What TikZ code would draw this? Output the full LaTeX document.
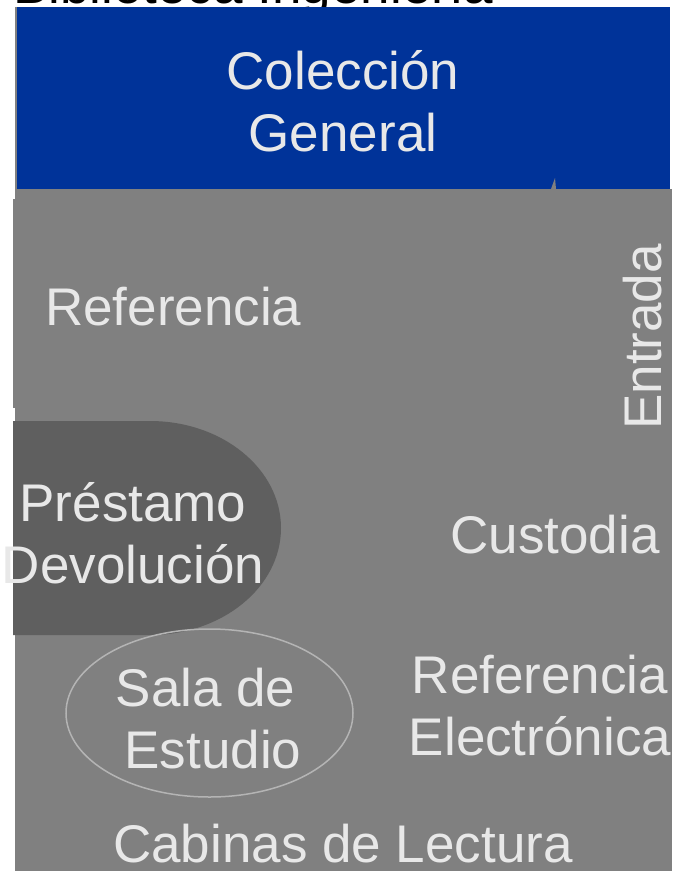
\documentclass[tikz,border=0pt]{standalone}
\usepackage{fontspec}
\setmainfont{Liberation Sans}
\usetikzlibrary{positioning}

\begin{document}
\begin{tikzpicture}[x=1pt,y=-1pt]
  \definecolor{collblue}{HTML}{003399}
  \definecolor{roomgray}{HTML}{808080}
  \definecolor{deskgray}{HTML}{5F5F5F}
  \definecolor{textgray}{HTML}{E8E8E8}
  \definecolor{edgegray}{HTML}{B4B4B4}
  \tikzstyle{areatext} = [text=textgray, font=\fontsize{53}{62}\selectfont, inner sep=0pt, align=center]
  \tikzstyle{room}     = [fill=roomgray, draw=none]

  \useasboundingbox (0,0) rectangle (674,871);

  % title, cut by the page edge
  \node [anchor=base west, inner sep=0pt, font=\fontsize{53}{62}\selectfont] (title) at (13,3) {Biblioteca Ingeniería};

  % floor plan
  \fill [room] (15,189) rectangle (672,871);
  \fill [room] (13,199) rectangle (15,408);
  \fill [roomgray] (15,7) rectangle (17,189);
  \fill [collblue] (17,7) rectangle (670,189);
  \fill [room] (551,189) -- (555,178) -- (556,189) -- cycle;
  \fill [deskgray] (13,421) -- (150,421) arc [start angle=-90, end angle=90, x radius=131, y radius=107] -- (13,635) -- cycle;
  \draw [edgegray, line width=1.5pt] (209.5,713) ellipse [x radius=143.5, y radius=84];

  % areas (base = last line)
  \node [areatext, anchor=base] (coleccion) at (343,151) {Colección\\General};
  \node [areatext, anchor=base west] (referencia) at (45,325) {Referencia};
  \node [areatext, anchor=base west, rotate=90] (entrada) at (661,430) {Entrada};
  \node [areatext, anchor=base] (prestamo) at (133,583) {Préstamo\\Devolución};
  \node [areatext, anchor=base] (custodia) at (555,553) {Custodia};
  \node [areatext, anchor=base] (sala) at (213,768) {Sala de\hspace*{.28em}\\Estudio};
  \node [areatext, anchor=base] (electronica) at (540,755) {Referencia\\Electrónica};
  \node [areatext, anchor=base] (cabinas) at (343,862) {Cabinas de Lectura};
\end{tikzpicture}
\end{document}
